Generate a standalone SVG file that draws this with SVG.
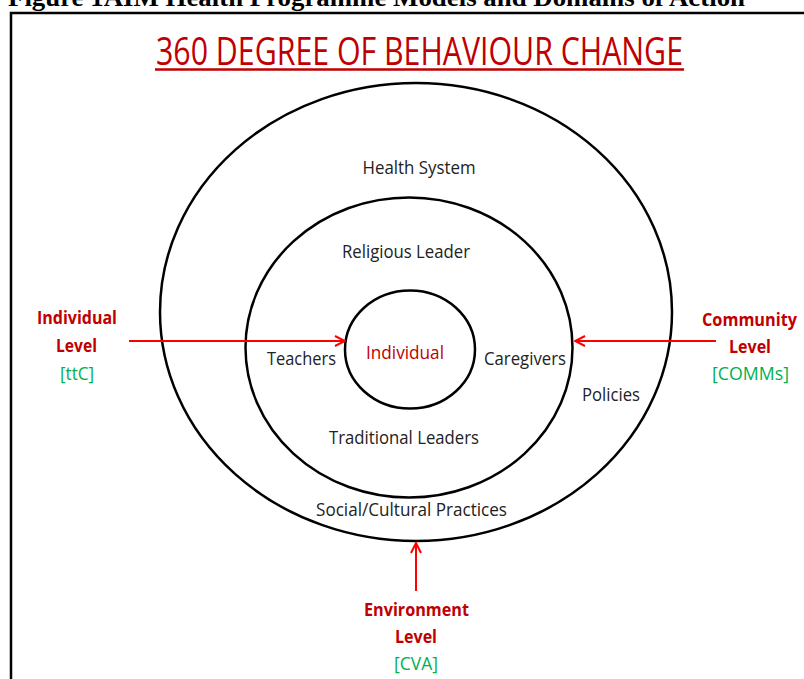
<svg xmlns="http://www.w3.org/2000/svg" width="804" height="679" viewBox="0 0 804 679">
<defs>
<style>
.t{font-family:"Open Sans","Noto Sans","Liberation Sans",sans-serif;font-size:18px;fill:#222;text-anchor:middle}
.lab{font-family:"Open Sans","Noto Sans","Liberation Sans",sans-serif;font-size:18px;font-weight:bold;fill:#c00000;text-anchor:middle}
.grn{font-family:"Open Sans","Noto Sans","Liberation Sans",sans-serif;font-size:18px;fill:#00b050;text-anchor:middle}
.ring{fill:none;stroke:#000;stroke-width:2.5}
.arr{stroke:#ff0000;stroke-width:2;fill:none}
</style>
<marker id="ah" viewBox="0 0 12 12" refX="11" refY="6" markerWidth="12" markerHeight="12" markerUnits="userSpaceOnUse" orient="auto">
<path d="M1,1 L11,6 L1,11" fill="none" stroke="#ff0000" stroke-width="2"/>
</marker>
</defs>
<rect width="804" height="679" fill="#fff"/>
<text x="8" y="6" font-family="Liberation Serif,serif" font-size="25" font-weight="bold" fill="#000" textLength="737" lengthAdjust="spacingAndGlyphs">Figure 1AIM Health Programme Models and Domains of Action</text>
<rect x="11" y="13" width="800" height="680" fill="none" stroke="#000" stroke-width="2.5"/>
<g id="title">
<text x="419.5" y="65" font-family="Open Sans,Noto Sans,sans-serif" font-size="38" fill="#c00000" text-anchor="middle" textLength="527" lengthAdjust="spacingAndGlyphs">360 DEGREE OF BEHAVIOUR CHANGE</text>
<line x1="155" y1="69.5" x2="684" y2="69.5" stroke="#c00000" stroke-width="2.5"/>
</g>
<g id="outer">
<ellipse class="ring" cx="416" cy="312" rx="256" ry="229"/>
<text class="t" x="419" y="174" textLength="113" lengthAdjust="spacingAndGlyphs">Health System</text>
<text class="t" x="611" y="401" textLength="58" lengthAdjust="spacingAndGlyphs">Policies</text>
<text class="t" x="411.5" y="516" textLength="191" lengthAdjust="spacingAndGlyphs">Social/Cultural Practices</text>
</g>
<g id="middle">
<ellipse class="ring" cx="409" cy="347.5" rx="163.5" ry="150"/>
<text class="t" x="406" y="258" textLength="128" lengthAdjust="spacingAndGlyphs">Religious Leader</text>
<text class="t" x="301.5" y="365" textLength="69" lengthAdjust="spacingAndGlyphs">Teachers</text>
<text class="t" x="525" y="365" textLength="82" lengthAdjust="spacingAndGlyphs">Caregivers</text>
<text class="t" x="404" y="444" textLength="150" lengthAdjust="spacingAndGlyphs">Traditional Leaders</text>
</g>
<g id="inner">
<ellipse class="ring" cx="410" cy="349.5" rx="65" ry="59"/>
<text class="t" x="405" y="359" fill="#c00000" style="fill:#c00000" textLength="78" lengthAdjust="spacingAndGlyphs">Individual</text>
</g>
<g id="individual-level">
<text class="lab" x="77" y="324" textLength="80" lengthAdjust="spacingAndGlyphs">Individual</text>
<text class="lab" x="76.5" y="352" textLength="41" lengthAdjust="spacingAndGlyphs">Level</text>
<text class="grn" x="77" y="380" textLength="34" lengthAdjust="spacingAndGlyphs">[ttC]</text>
</g>
<g id="community-level">
<text class="lab" x="749.5" y="326" textLength="95" lengthAdjust="spacingAndGlyphs">Community</text>
<text class="lab" x="750" y="353" textLength="42" lengthAdjust="spacingAndGlyphs">Level</text>
<text class="grn" x="750.5" y="380" textLength="77" lengthAdjust="spacingAndGlyphs">[COMMs]</text>
</g>
<g id="environment-level">
<text class="lab" x="416.5" y="616" textLength="105" lengthAdjust="spacingAndGlyphs">Environment</text>
<text class="lab" x="416" y="643" textLength="42" lengthAdjust="spacingAndGlyphs">Level</text>
<text class="grn" x="416" y="670" textLength="44" lengthAdjust="spacingAndGlyphs">[CVA]</text>
</g>
<g id="connectors">
<line class="arr" x1="129" y1="341" x2="345" y2="341" marker-end="url(#ah)"/>
<line class="arr" x1="716" y1="341" x2="575" y2="341" marker-end="url(#ah)"/>
<line class="arr" x1="416" y1="591" x2="416" y2="543" marker-end="url(#ah)"/>
</g>
</svg>
